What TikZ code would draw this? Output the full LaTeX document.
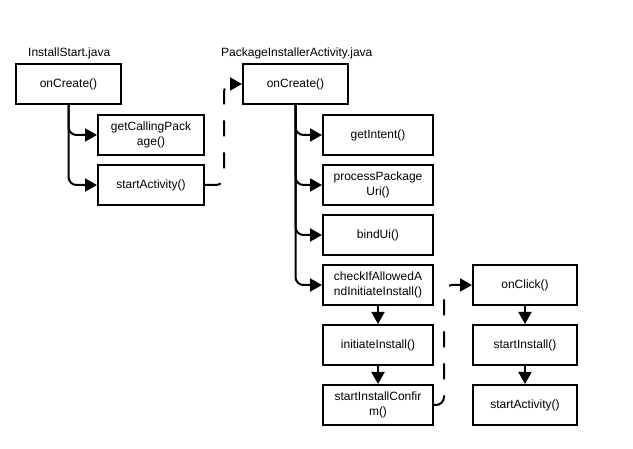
\documentclass[tikz,border=0pt]{standalone}
\usepackage{fontspec}
\setmainfont{Liberation Sans}
\usetikzlibrary{arrows.meta}

\begin{document}
\begin{tikzpicture}[x=1pt, y=-1pt,
	box/.style={draw=black, line width=2pt, minimum height=40pt, align=center,
		font=\fontsize{12}{14.5}\selectfont, inner sep=0pt},
	flow/.style={line width=2pt, rounded corners=8pt, -{Triangle[length=12pt,width=13pt]}},
	jump/.style={flow, dash pattern=on 16pt off 16pt}
]

	\useasboundingbox (0,0) rectangle (633,449);

	\def\wA{105} %first column width
	\def\wB{106} %second column width
	\def\wC{110} %activity steps width
	\def\wD{104} %click column width

	%file titles
	\node[anchor=west, font=\fontsize{12}{14}\selectfont, inner sep=0pt] (t_is) at (28,53) {InstallStart.java};
	\node[anchor=west, font=\fontsize{12}{14}\selectfont, inner sep=0pt] (t_pia) at (221,53) {PackageInstallerActivity.java};

	%InstallStart boxes
	\node[box, minimum width=\wA pt] (is_on) at (68.5,84) {onCreate()};
	\node[box, minimum width=\wB pt] (is_get) at (151,135) {getCallingPack\\age()};
	\node[box, minimum width=\wB pt] (is_start) at (151,185) {startActivity()};

	%PackageInstallerActivity boxes
	\node[box, minimum width=\wA pt] (pia_on) at (295.5,84) {onCreate()};
	\node[box, minimum width=\wC pt] (pia_intent) at (378,135) {getIntent()};
	\node[box, minimum width=\wC pt] (pia_uri) at (378,185) {processPackage\\Uri()};
	\node[box, minimum width=\wC pt] (pia_bind) at (378,235) {bindUi()};
	\node[box, minimum width=\wC pt] (pia_check) at (378,285) {checkIfAllowedA\\ndInitiateInstall()};
	\node[box, minimum width=\wC pt] (pia_init) at (378,345) {initiateInstall()};
	\node[box, minimum width=\wC pt] (pia_confirm) at (378,405) {startInstallConfir\\m()};

	%click boxes
	\node[box, minimum width=\wD pt] (oc_click) at (525,285) {onClick()};
	\node[box, minimum width=\wD pt] (oc_install) at (525,345) {startInstall()};
	\node[box, minimum width=\wD pt] (oc_start) at (525,405) {startActivity()};

	%calls inside InstallStart
	\draw[flow] (is_on.south) |- (is_get.west);
	\draw[flow] (is_on.south) |- (is_start.west);

	%calls inside onCreate
	\draw[flow] (pia_on.south) |- (pia_intent.west);
	\draw[flow] (pia_on.south) |- (pia_uri.west);
	\draw[flow] (pia_on.south) |- (pia_bind.west);
	\draw[flow] (pia_on.south) |- (pia_check.west);

	%straight chains
	\draw[flow] (pia_check) -- (pia_init);
	\draw[flow] (pia_init) -- (pia_confirm);
	\draw[flow] (oc_click) -- (oc_install);
	\draw[flow] (oc_install) -- (oc_start);

	%jumps between files
	\draw[jump] (is_start.east) -- ++(19,0) |- (pia_on.west);
	\draw[jump] (pia_confirm.east) -- ++(10,0) |- (oc_click.west);

\end{tikzpicture}
\end{document}
